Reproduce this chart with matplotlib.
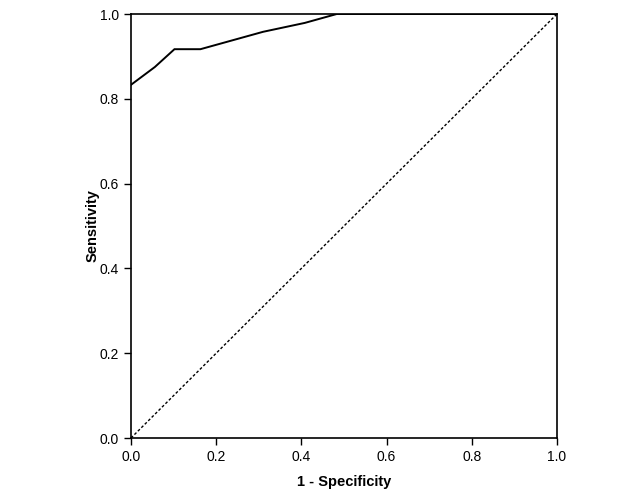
import matplotlib
matplotlib.use("Agg")
import matplotlib.pyplot as plt

plt.rcParams['font.family'] = ['Liberation Sans', 'DejaVu Sans']

# ROC curve points
fpr = [0.0, 0.056, 0.102, 0.163, 0.31, 0.408, 0.483, 1.0]
tpr = [0.833, 0.875, 0.917, 0.917, 0.958, 0.979, 1.0, 1.0]
ref_line = [0.0, 1.0]
ticks = [0.0, 0.2, 0.4, 0.6, 0.8, 1.0]

fig = plt.figure(figsize=(6.29, 5.04), dpi=100)
ax = fig.add_axes([131/629, 66/504, 426/629, 424/504])

ax.plot(fpr, tpr, color='black', lw=1.4, solid_joinstyle='miter')
ax.plot(ref_line, ref_line, color='black', lw=1.0, linestyle=(0, (2, 1.5)))

ax.set_xlim(0, 1)
ax.set_ylim(0, 1)
ax.set_xticks(ticks)
ax.set_yticks(ticks)
ax.set_xticklabels(['%.1f' % t for t in ticks])
ax.set_yticklabels(['%.1f' % t for t in ticks])
ax.tick_params(direction='out', length=5, width=1, labelsize=10, colors='black')
for s in ax.spines.values():
    s.set_linewidth(1.2)
    s.set_color('black')

ax.set_xlabel('1 - Specificity', fontsize=10.5, fontweight='bold', labelpad=8)
ax.set_ylabel('Sensitivity', fontsize=10.5, fontweight='bold', labelpad=0)

fig.savefig('out.png', dpi=100)
